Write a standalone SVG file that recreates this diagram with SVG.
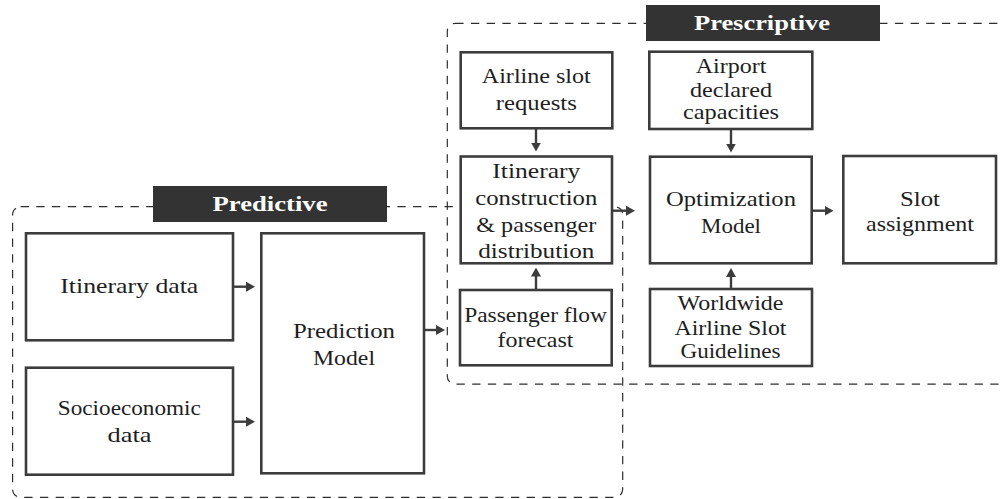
<svg xmlns="http://www.w3.org/2000/svg" width="1002" height="499" viewBox="0 0 1002 499" font-family="Liberation Serif">
  <style>
    .region { fill: none; stroke: #2e2e2e; stroke-width: 1.2; stroke-dasharray: 8.3 7.4; }
    .tag { fill: #333333; }
    .tag-text { font-weight: bold; font-size: 21px; fill: #ffffff; text-anchor: middle; }
    .box { fill: #ffffff; stroke: #3c3c3c; stroke-width: 2.6; }
    .label { font-size: 22px; fill: #1e1e1e; text-anchor: middle; }
    .edge { fill: none; stroke: #3c3c3c; stroke-width: 2.4; }
  </style>
  <defs>
    <marker id="head" viewBox="0 0 9 10" markerWidth="9" markerHeight="10" refX="3" refY="5" orient="auto" markerUnits="userSpaceOnUse">
      <path d="M0,0 L9,5 L0,10 z" fill="#3c3c3c"/>
    </marker>
  </defs>
  <rect width="1002" height="499" fill="#ffffff"/>

  <!-- dashed stage regions -->
  <g id="regions">
    <rect class="region" x="12.6" y="206.7" width="610.1" height="290.6" rx="8" ry="8"/>
    <rect class="region" x="447.3" y="23.3" width="558" height="360.9" rx="8" ry="8"/>
  </g>

  <!-- stage titles -->
  <g id="tag-predictive">
    <rect class="tag" x="153" y="186" width="234" height="36"/>
    <text class="tag-text" font-family="Liberation Serif" x="270" y="210.5" textLength="115" lengthAdjust="spacingAndGlyphs">Predictive</text>
  </g>
  <g id="tag-prescriptive">
    <rect class="tag" x="646" y="5" width="234" height="36"/>
    <text class="tag-text" font-family="Liberation Serif" x="762" y="30" textLength="136" lengthAdjust="spacingAndGlyphs">Prescriptive</text>
  </g>

  <!-- predictive nodes -->
  <g id="itinerary-data">
    <rect class="box" x="26" y="233.3" width="207" height="107"/>
    <text class="label" font-family="Liberation Serif" x="129.3" y="293.3" textLength="138" lengthAdjust="spacingAndGlyphs">Itinerary data</text>
  </g>
  <g id="socioeconomic-data">
    <rect class="box" x="26" y="367.7" width="207" height="107"/>
    <text class="label" font-family="Liberation Serif" x="129.3" y="415" textLength="143" lengthAdjust="spacingAndGlyphs">Socioeconomic</text>
    <text class="label" font-family="Liberation Serif" x="129.5" y="441.7" textLength="44" lengthAdjust="spacingAndGlyphs">data</text>
  </g>
  <g id="prediction-model">
    <rect class="box" x="261.3" y="233.3" width="162.7" height="240"/>
    <text class="label" font-family="Liberation Serif" x="344" y="338.3" textLength="102" lengthAdjust="spacingAndGlyphs">Prediction</text>
    <text class="label" font-family="Liberation Serif" x="344" y="365" textLength="62" lengthAdjust="spacingAndGlyphs">Model</text>
  </g>

  <!-- prescriptive nodes -->
  <g id="airline-slot-requests">
    <rect class="box" x="460.7" y="52.3" width="151.6" height="76"/>
    <text class="label" font-family="Liberation Serif" x="536.3" y="83.3" textLength="109" lengthAdjust="spacingAndGlyphs">Airline slot</text>
    <text class="label" font-family="Liberation Serif" x="536.3" y="110" textLength="81" lengthAdjust="spacingAndGlyphs">requests</text>
  </g>
  <g id="itinerary-construction">
    <rect class="box" x="460.7" y="156.5" width="151.3" height="106.8"/>
    <text class="label" font-family="Liberation Serif" x="536.3" y="178.3" textLength="88" lengthAdjust="spacingAndGlyphs">Itinerary</text>
    <text class="label" font-family="Liberation Serif" x="536.3" y="205" textLength="122" lengthAdjust="spacingAndGlyphs">construction</text>
    <text class="label" font-family="Liberation Serif" x="536.3" y="231.7" textLength="120" lengthAdjust="spacingAndGlyphs">&amp; passenger</text>
    <text class="label" font-family="Liberation Serif" x="536.3" y="258.3" textLength="116" lengthAdjust="spacingAndGlyphs">distribution</text>
  </g>
  <g id="passenger-flow-forecast">
    <rect class="box" x="460" y="290" width="151.7" height="75.3"/>
    <text class="label" font-family="Liberation Serif" x="535.5" y="321.7" textLength="142.7" lengthAdjust="spacingAndGlyphs">Passenger flow</text>
    <text class="label" font-family="Liberation Serif" x="535.5" y="347.3" textLength="76" lengthAdjust="spacingAndGlyphs">forecast</text>
  </g>
  <g id="airport-declared-capacities">
    <rect class="box" x="649.3" y="51.7" width="163" height="77.3"/>
    <text class="label" font-family="Liberation Serif" x="731" y="72.7" textLength="70.7" lengthAdjust="spacingAndGlyphs">Airport</text>
    <text class="label" font-family="Liberation Serif" x="731" y="96.7" textLength="82" lengthAdjust="spacingAndGlyphs">declared</text>
    <text class="label" font-family="Liberation Serif" x="731" y="119.3" textLength="96" lengthAdjust="spacingAndGlyphs">capacities</text>
  </g>
  <g id="optimization-model">
    <rect class="box" x="650" y="156.7" width="161.7" height="106.6"/>
    <text class="label" font-family="Liberation Serif" x="731" y="206" textLength="130" lengthAdjust="spacingAndGlyphs">Optimization</text>
    <text class="label" font-family="Liberation Serif" x="731" y="232.7" textLength="60" lengthAdjust="spacingAndGlyphs">Model</text>
  </g>
  <g id="worldwide-slot-guidelines">
    <rect class="box" x="650" y="289" width="162" height="77"/>
    <text class="label" font-family="Liberation Serif" x="730.5" y="310" textLength="106" lengthAdjust="spacingAndGlyphs">Worldwide</text>
    <text class="label" font-family="Liberation Serif" x="730.5" y="335" textLength="112" lengthAdjust="spacingAndGlyphs">Airline Slot</text>
    <text class="label" font-family="Liberation Serif" x="730.5" y="358.3" textLength="100" lengthAdjust="spacingAndGlyphs">Guidelines</text>
  </g>
  <g id="slot-assignment">
    <rect class="box" x="843.3" y="156" width="152.7" height="107.3"/>
    <text class="label" font-family="Liberation Serif" x="920" y="206" textLength="40" lengthAdjust="spacingAndGlyphs">Slot</text>
    <text class="label" font-family="Liberation Serif" x="920" y="230.7" textLength="108" lengthAdjust="spacingAndGlyphs">assignment</text>
  </g>

  <!-- connectors: each line stops 6px short of the arrow tip -->
  <g id="connectors">
    <path class="edge" marker-end="url(#head)" d="M233,286.7 H249"/>
    <path class="edge" marker-end="url(#head)" d="M233,421.7 H249"/>
    <path class="edge" marker-end="url(#head)" d="M424,330 H439"/>
    <path class="edge" marker-end="url(#head)" d="M536,128.3 V145.5"/>
    <path class="edge" marker-end="url(#head)" d="M536,290 V273.5"/>
    <path class="edge" marker-end="url(#head)" d="M612,210.7 H629"/>
    <path class="edge" marker-end="url(#head)" d="M731,129 V146.5"/>
    <path class="edge" marker-end="url(#head)" d="M731,289 V274"/>
    <path class="edge" marker-end="url(#head)" d="M811.7,210.7 H827.5"/>
  </g>
</svg>
